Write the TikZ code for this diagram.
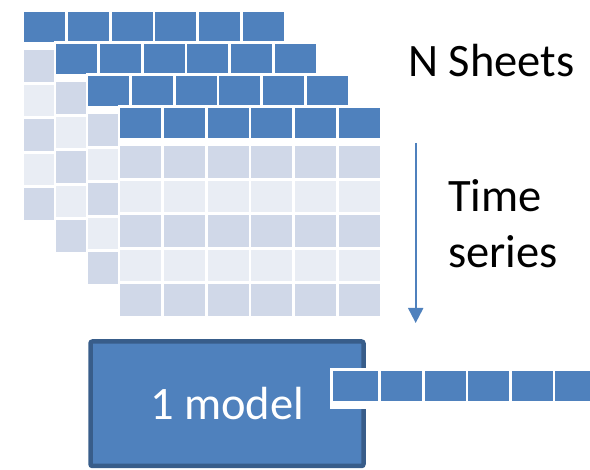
\documentclass[tikz,border=0pt]{standalone}
\usepackage{fontspec}
\setmainfont{Carlito}
\usetikzlibrary{arrows.meta}
\definecolor{hdr}{HTML}{4F81BD}
\definecolor{rowA}{HTML}{D0D8E8}
\definecolor{rowB}{HTML}{E9EDF4}
\definecolor{edgec}{HTML}{385D8A}
\tikzset{
  bigtext/.style={font=\fontsize{46.5}{56}\selectfont, inner sep=0pt},
  modelbox/.style={draw=edgec, fill=hdr, line width=4.5pt, rounded corners=2pt,
    minimum width=273pt, minimum height=124.5pt, text=white, bigtext},
  flowarrow/.style={draw=hdr, line width=2pt, -{Triangle[width=15pt,length=15pt]}}
}
\begin{document}
\begin{tikzpicture}[x=1pt,y=-1pt]
\useasboundingbox (0,0) rectangle (590,470);
\clip (0,0) rectangle (590,470);
% stacked sheets
\foreach \k in {0,...,3}{
  \pgfmathsetmacro\xo{24+32*\k}
  \pgfmathsetmacro\yo{12+32*\k}
  \fill[white] (\xo-2.5,\yo-2.5) rectangle (\xo+262.5,\yo+210.5);
  \foreach \i in {0,...,5}{
    \fill[hdr] (\xo+\i*43.8,\yo) rectangle ++(41,30);
    \foreach \j in {0,...,4}{
      \ifodd\j\relax\def\cc{rowB}\else\def\cc{rowA}\fi
      \fill[\cc] (\xo+\i*43.8,\yo+38+\j*34.6) rectangle ++(41,31.6);
    }
  }
}
% model box
\node[modelbox] (model) at (227,403.75) {1 model};
% output row
\fill[white] (330,368) rectangle (600,409);
\fill[hdr] (333,371) rectangle (378,401);
\foreach \i in {0,...,4}{
  \fill[hdr] (381+\i*43.5,371) rectangle ++(41,30);
}
% arrow
\coordinate (atop) at (415.7,143);
\coordinate (abot) at (415.7,323);
\draw[flowarrow] (atop) -- (abot);
% labels
\node[bigtext, anchor=base west] (nsheets) at (408,77) {N Sheets};
\node[bigtext, anchor=base west] (time) at (448,212) {Time};
\node[bigtext, anchor=base west] (series) at (448,268) {series};
\end{tikzpicture}
\end{document}
